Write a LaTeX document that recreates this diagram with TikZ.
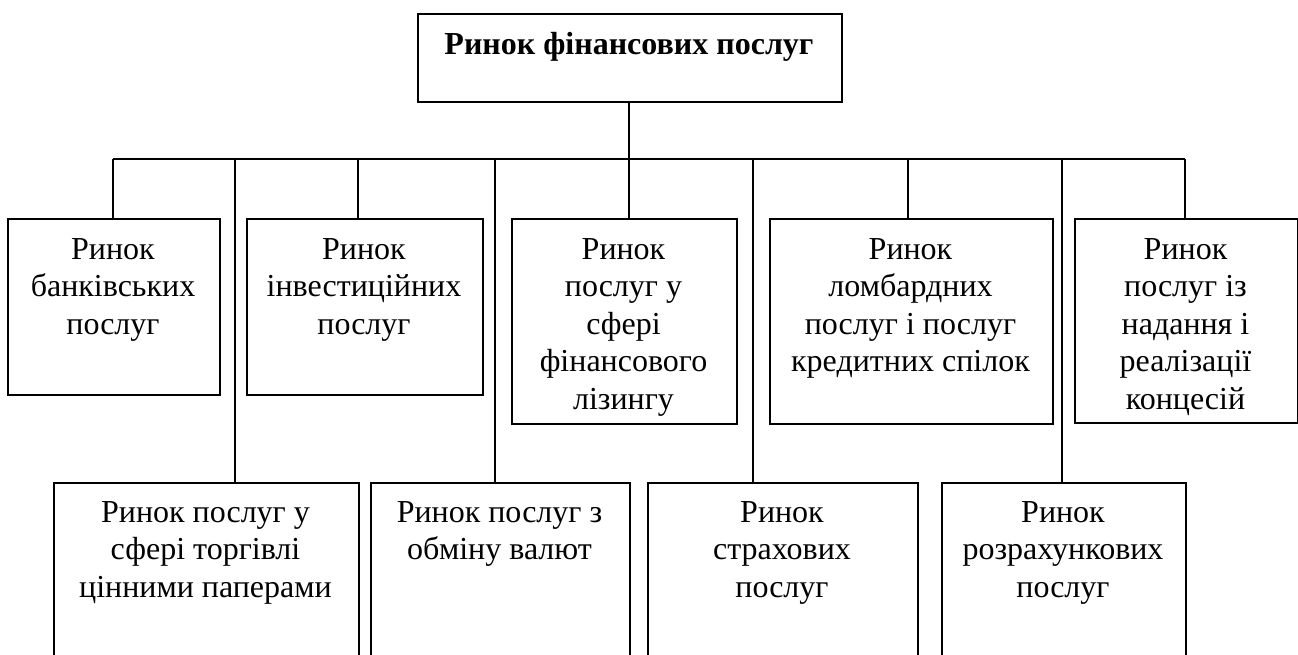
\documentclass[tikz,border=0pt]{standalone}
\usepackage{fontspec}
\setmainfont{Liberation Serif}
\begin{document}
\begin{tikzpicture}[x=1pt,y=-1pt,
  box/.style={draw=black,line width=1.6pt,fill=white,inner sep=0pt,anchor=north west},
  lbl/.style={inner sep=0pt,anchor=north,align=center,font=\fontsize{32}{37.5}\selectfont},
  ttl/.style={inner sep=0pt,anchor=north,align=center,font=\fontsize{32}{37.5}\selectfont\bfseries},
  wire/.style={draw=black,line width=1.6pt}]
\useasboundingbox (0,0) rectangle (1298,654);
\clip (0,0) rectangle (1298,654);
% top
\node[box,minimum width=424pt,minimum height=88pt] (top) at (417,13) {};
\node[ttl] (toptxt) at (629,32) {Ринок фінансових послуг};
% upper row
\node[box,minimum width=212pt,minimum height=176pt] (b1) at (7,218) {};
\node[lbl] (t1) at (113,238) {Ринок\\банківських\\послуг};
\node[box,minimum width=236pt,minimum height=176pt] (b2) at (246,218) {};
\node[lbl] (t2) at (364,238) {Ринок\\інвестиційних\\послуг};
\node[box,minimum width=225pt,minimum height=205pt] (b3) at (511,218) {};
\node[lbl] (t3) at (623.5,238) {Ринок\\послуг у\\сфері\\фінансового\\лізингу};
\node[box,minimum width=283pt,minimum height=205pt] (b4) at (769,218) {};
\node[lbl] (t4) at (910.5,238) {Ринок\\ломбардних\\послуг і послуг\\кредитних спілок};
\node[box,minimum width=223pt,minimum height=204pt] (b5) at (1074,218) {};
\node[lbl] (t5) at (1185.5,238) {Ринок\\послуг із\\надання і\\реалізації\\концесій};
% lower row
\node[box,minimum width=305pt,minimum height=220pt] (l1) at (53,482) {};
\node[lbl] (s1) at (205.5,501) {Ринок послуг у\\сфері торгівлі\\цінними паперами};
\node[box,minimum width=259pt,minimum height=220pt] (l2) at (370,482) {};
\node[lbl] (s2) at (499.5,501) {Ринок послуг з\\обміну валют};
\node[box,minimum width=270pt,minimum height=220pt] (l3) at (647,482) {};
\node[lbl] (s3) at (782,501) {Ринок\\страхових\\послуг};
\node[box,minimum width=244pt,minimum height=220pt] (l4) at (941,482) {};
\node[lbl] (s4) at (1063,501) {Ринок\\розрахункових\\послуг};
% bus
\coordinate (hub) at (629,159);
\coordinate (bl) at (113,159);
\coordinate (br) at (1185,159);
\coordinate (k1) at (235,159);
\coordinate (k2) at (358,159);
\coordinate (k3) at (495,159);
\coordinate (k4) at (753,159);
\coordinate (k5) at (908,159);
\coordinate (k6) at (1062,159);
\draw[wire] (hub |- top.south) -- (hub);
\draw[wire] (bl) -- (br);
\draw[wire] (bl) -- (bl |- b1.north);
\draw[wire] (k2) -- (k2 |- b2.north);
\draw[wire] (hub) -- (hub |- b3.north);
\draw[wire] (k5) -- (k5 |- b4.north);
\draw[wire] (br) -- (br |- b5.north);
\draw[wire] (k1) -- (k1 |- l1.north);
\draw[wire] (k3) -- (k3 |- l2.north);
\draw[wire] (k4) -- (k4 |- l3.north);
\draw[wire] (k6) -- (k6 |- l4.north);
\end{tikzpicture}
\end{document}
